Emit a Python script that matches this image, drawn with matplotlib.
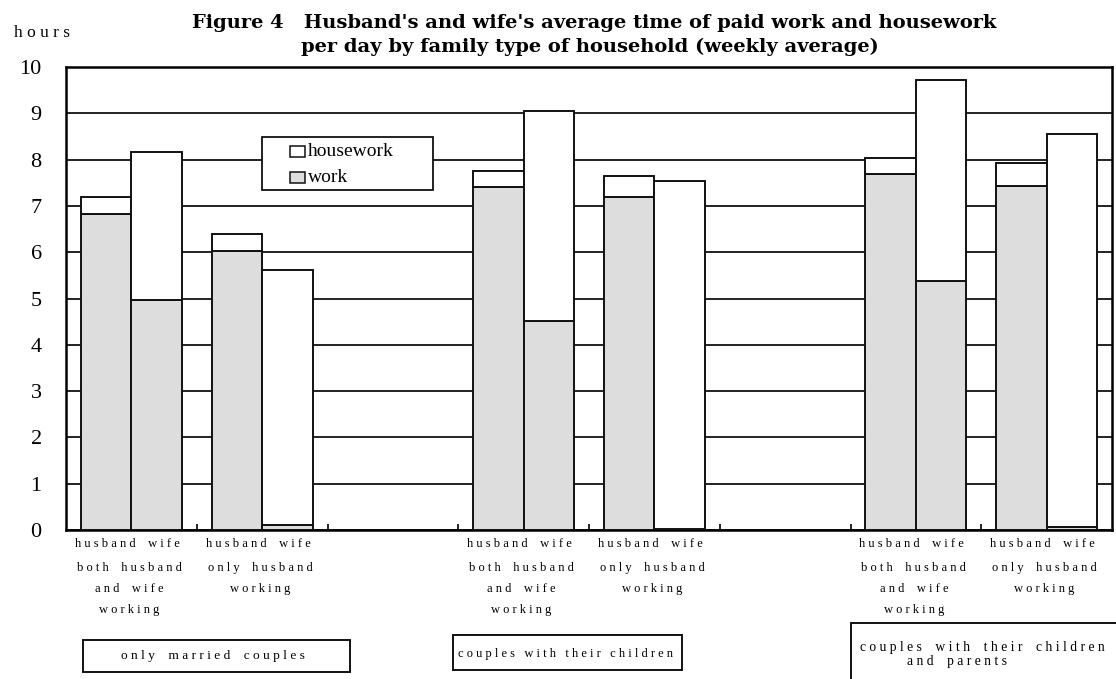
import matplotlib
matplotlib.use("Agg")
import matplotlib.pyplot as plt
from matplotlib.patches import Rectangle

plt.rcParams['font.family'] = ['Liberation Serif', 'DejaVu Serif']

# slot index of each pair of bars (slots 2 and 5 are empty gaps)
slots = [0, 1, 3, 4, 6, 7]
husband_work = [6.82, 6.03, 7.41, 7.20, 7.68, 7.44]
husband_total = [7.20, 6.39, 7.76, 7.65, 8.03, 7.93]
wife_work = [4.96, 0.10, 4.51, 0.03, 5.38, 0.06]
wife_total = [8.17, 5.62, 9.05, 7.54, 9.71, 8.55]
husband_house = [t - w for t, w in zip(husband_total, husband_work)]
wife_house = [t - w for t, w in zip(wife_total, wife_work)]

pair_label = "h u s b a n d    w i f e"
sub_labels = ["b o t h    h u s b a n d\na n d    w i f e\nw o r k i n g",
              "o n l y    h u s b a n d\nw o r k i n g"] * 3
group_labels = ["o n l y    m a r r i e d    c o u p l e s",
                "c o u p l e s   w i t h   t h e i r   c h i l d r e n",
                "c o u p l e s    w i t h    t h e i r    c h i l d r e n\na n d    p a r e n t s"]
legend_labels = ["housework", "work"]
yticks = list(range(0, 11))

W, H = 1116, 679
def P(x, y):
    return (x / W, 1 - y / H)

grey = '#dddddd'
fig = plt.figure(figsize=(W / 100, H / 100), dpi=100)
ax = fig.add_axes([66 / W, 1 - 530 / H, (1112 - 66) / W, (530 - 67) / H])

w = 0.386
hx = [s - w / 2 for s in slots]
wx = [s + w / 2 for s in slots]
kw = dict(edgecolor='#111111', lw=1.4, zorder=3)
ax.bar(hx, husband_work, w, color=grey, **kw)
ax.bar(hx, husband_house, w, bottom=husband_work, color='white', **kw)
ax.bar(wx, wife_work, w, color=grey, **kw)
ax.bar(wx, wife_house, w, bottom=wife_work, color='white', **kw)

ax.set_xlim(-0.5, 7.5)
ax.set_ylim(0, 10)
ax.set_yticks(yticks)
ax.set_yticklabels([str(v) for v in yticks], fontsize=16)
ax.tick_params(axis='y', direction='out', length=0, pad=17.5)
ax.set_xticks([0.5 + i for i in range(7)])
ax.set_xticklabels([])
ax.tick_params(axis='x', direction='in', length=4, width=1.2)
ax.grid(axis='y', color='#111111', lw=1.3, zorder=0)
for sp in ax.spines.values():
    sp.set_linewidth(1.8)

# legend drawn in figure pixel space
fig.patches.append(Rectangle(P(262, 190), 171 / W, 53 / H, transform=fig.transFigure,
                             facecolor='white', edgecolor='#111111', lw=1.3, zorder=5))
legend_colors = ['white', grey]
legend_y = [152, 178]
for lab, col, yy in zip(legend_labels, legend_colors, legend_y):
    fig.patches.append(Rectangle(P(290, yy + 5), 15 / W, 11 / H, transform=fig.transFigure,
                                 facecolor=col, edgecolor='#111111', lw=1.1, zorder=6))
    fig.text(*P(308, yy), lab, ha='left', va='center', fontsize=14, zorder=7)

# labels under axis
for i, s in enumerate(slots):
    ax.annotate(pair_label, xy=(s, 0), xycoords=('data', 'axes fraction'),
                xytext=(-3, -9.8), textcoords='offset points', ha='center', va='center',
                fontsize=9)
    ax.annotate(sub_labels[i], xy=(s, 0), xycoords=('data', 'axes fraction'),
                xytext=(-1.5, -23), textcoords='offset points', ha='center', va='top',
                fontsize=9, linespacing=2.0)

# group label boxes
def fbox(x0, y0, x1, y1):
    fig.patches.append(Rectangle(P(x0, y1), (x1 - x0) / W, (y1 - y0) / H,
                                 transform=fig.transFigure, fill=False,
                                 edgecolor='#111111', lw=1.4))

fbox(83, 640, 350, 672)
fig.text(*P(213, 656), group_labels[0], ha='center', va='center', fontsize=9.6)
fbox(453, 635, 682, 670)
fig.text(*P(565, 654), group_labels[1], ha='center', va='center', fontsize=9)
fbox(851, 623, 1140, 700)
g3 = group_labels[2].split('\n')
fig.text(*P(982, 647), g3[0], ha='center', va='center', fontsize=9.8)
fig.text(*P(957, 662), g3[1], ha='center', va='center', fontsize=9.8)

# titles
fig.text(*P(594, 23),
         "Figure 4   Husband's and wife's average time of paid work and housework",
         ha='center', va='center', fontsize=14, fontweight='bold', family='DejaVu Serif')
fig.text(*P(590, 47),
         "per day by family type of household (weekly average)",
         ha='center', va='center', fontsize=14, fontweight='bold', family='DejaVu Serif')
fig.text(*P(42, 33), "h o u r s", ha='center', va='center', fontsize=12.5)

fig.savefig('out.png', dpi=100)
